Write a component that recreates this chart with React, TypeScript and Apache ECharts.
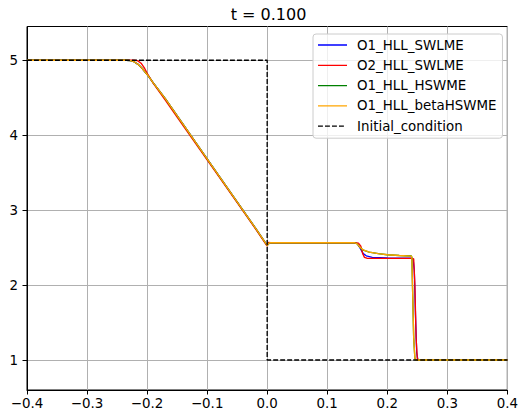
import React, { useEffect, useRef } from "react";
import * as echarts from "echarts";

const TITLE = "t = 0.100";
const X_TICKS = [-0.4, -0.3, -0.2, -0.1, 0, 0.1, 0.2, 0.3, 0.4];
const Y_TICKS = [1, 2, 3, 4, 5];

const SERIES_NAMES = ["O1_HLL_SWLME", "O2_HLL_SWLME", "O1_HLL_HSWME", "O1_HLL_betaHSWME", "Initial_condition"];
const SERIES_COLORS = ["#0000ff", "#ff0000", "#008000", "#ffa500", "#000000"];

const O1_SWLME_X = [-0.4, -0.235, -0.228, -0.222, -0.215, -0.208, -0.2, -0.19, -0.17, -0.15, -0.1, -0.05, -0.02, 0, 0.004, 0.145, 0.15, 0.155, 0.16, 0.165, 0.175, 0.2, 0.24, 0.243, 0.245, 0.247, 0.249, 0.251, 0.4];
const O1_SWLME_H = [5, 5, 4.995, 4.98, 4.945, 4.89, 4.81, 4.7, 4.49, 4.26, 3.685, 3.11, 2.765, 2.53, 2.565, 2.565, 2.555, 2.49, 2.42, 2.39, 2.37, 2.362, 2.36, 2.35, 2.2, 1.6, 1.1, 1.0, 1.0];

const O2_SWLME_X = [-0.4, -0.222, -0.216, -0.21, -0.204, -0.198, -0.19, -0.17, -0.15, -0.1, -0.05, -0.02, 0, 0.002, 0.006, 0.145, 0.152, 0.156, 0.159, 0.162, 0.166, 0.24, 0.244, 0.246, 0.248, 0.25, 0.252, 0.4];
const O2_SWLME_H = [5, 5, 4.995, 4.96, 4.89, 4.8, 4.695, 4.47, 4.24, 3.67, 3.1, 2.755, 2.52, 2.57, 2.565, 2.565, 2.56, 2.52, 2.42, 2.37, 2.358, 2.356, 2.35, 2.0, 1.3, 1.02, 1.0, 1.0];

const O1_HSWME_X = [-0.4, -0.235, -0.228, -0.222, -0.215, -0.208, -0.2, -0.19, -0.17, -0.15, -0.1, -0.05, -0.02, 0, 0.004, 0.145, 0.15, 0.155, 0.16, 0.17, 0.185, 0.2, 0.22, 0.24, 0.241, 0.242, 0.244, 0.246, 0.248, 0.4];
const O1_HSWME_H = [5, 5, 4.995, 4.98, 4.945, 4.89, 4.81, 4.7, 4.49, 4.26, 3.685, 3.11, 2.765, 2.53, 2.565, 2.565, 2.55, 2.5, 2.465, 2.44, 2.42, 2.405, 2.395, 2.388, 2.37, 2.0, 1.3, 1.02, 1.0, 1.0];

const O1_BETA_X = [-0.4, -0.235, -0.228, -0.222, -0.215, -0.208, -0.2, -0.19, -0.17, -0.15, -0.1, -0.05, -0.02, 0, 0.004, 0.145, 0.15, 0.155, 0.16, 0.17, 0.185, 0.2, 0.22, 0.24, 0.241, 0.242, 0.244, 0.246, 0.248, 0.4];
const O1_BETA_H = [5, 5, 4.995, 4.98, 4.945, 4.89, 4.81, 4.7, 4.49, 4.26, 3.685, 3.11, 2.765, 2.53, 2.565, 2.565, 2.55, 2.5, 2.468, 2.44, 2.42, 2.405, 2.395, 2.387, 2.37, 2.0, 1.3, 1.02, 1.0, 1.0];

const INIT_X = [-0.4, 0, 0, 0.4];
const INIT_H = [5, 5, 1, 1];

const zip = (xs: number[], hs: number[]) => xs.map((x, i) => [x, hs[i]]);

const FONT = "DejaVu Sans";
const BOX = "M0,0L0.001,0L0,0.001Z M29,14L28.999,14L29,13.999Z ";
const SOLID_ICON = "path://" + BOX + "M0,6.33L29,6.33L29,7.67L0,7.67Z";
const DASH_ICON =
  "path://" +
  BOX +
  "M0,6.33L4.9,6.33L4.9,7.67L0,7.67Z M7,6.33L11.9,6.33L11.9,7.67L7,7.67Z M14,6.33L18.9,6.33L18.9,7.67L14,7.67Z M21,6.33L25.9,6.33L25.9,7.67L21,7.67Z";

export default function App() {
  const ref = useRef<HTMLDivElement>(null);
  useEffect(() => {
    document.body.style.margin = "0";
    if (!ref.current) return;
    const chart = echarts.init(ref.current, undefined, { renderer: "svg" });
    const datasets = [
      zip(O1_SWLME_X, O1_SWLME_H),
      zip(O2_SWLME_X, O2_SWLME_H),
      zip(O1_HSWME_X, O1_HSWME_H),
      zip(O1_BETA_X, O1_BETA_H),
      zip(INIT_X, INIT_H),
    ];
    const series = datasets.map((d, i) => ({
      name: SERIES_NAMES[i],
      type: "line",
      data: d,
      symbol: "none",
      showSymbol: false,
      smooth: false,
      color: SERIES_COLORS[i],
      lineStyle: {
        color: SERIES_COLORS[i],
        width: 1.33,
        type: i === 4 ? [4.9, 2.1] : "solid",
      },
      z: 2 + i,
    }));
    chart.setOption({
      animation: false,
      backgroundColor: "#ffffff",
      grid: {
        left: 27,
        right: 10.5,
        top: 26.5,
        bottom: 28,
        show: true,
        borderColor: "#000",
        borderWidth: 1,
        containLabel: false,
      },
      graphic: [
        {
          type: "text",
          x: 268.5,
          y: 14,
          style: {
            text: TITLE,
            font: `16px '${FONT}'`,
            fill: "#000",
            textAlign: "center",
            textVerticalAlign: "middle",
          },
        },
      ],
      legend: {
        orient: "vertical",
        left: 313,
        top: 34,
        padding: [4, 6, 5, 5],
        itemWidth: 29,
        itemHeight: 14,
        itemGap: 6.3,
        symbolKeepAspect: false,
        backgroundColor: "rgba(255,255,255,0.8)",
        borderColor: "#cccccc",
        borderWidth: 1,
        borderRadius: 3,
        data: SERIES_NAMES.map((n, i) => ({ name: n, icon: i === 4 ? DASH_ICON : SOLID_ICON })),
        textStyle: {
          fontFamily: FONT,
          fontSize: 13.4,
          color: "#000",
          lineHeight: 14,
          padding: [0, 0, 0, 5],
        },
      },
      xAxis: {
        type: "value",
        min: -0.4,
        max: 0.4,
        interval: 0.1,
        axisLine: { show: true, onZero: false, lineStyle: { color: "#000", width: 1 } },
        axisTick: { show: true, length: 4.5, lineStyle: { color: "#000", width: 1 }, customValues: X_TICKS },
        axisLabel: {
          customValues: X_TICKS,
          margin: 7,
          color: "#000",
          fontFamily: FONT,
          fontSize: 13.4,
          formatter: (v: number) => {
            const s = (Math.round(v * 10) / 10).toFixed(1);
            return s.startsWith("-") ? "\u2212" + s.slice(1) : s;
          },
        },
        splitLine: { show: true, lineStyle: { color: "#b0b0b0", width: 1 } },
      },
      yAxis: {
        type: "value",
        min: 0.6,
        max: 5.45,
        axisLine: { show: true, onZero: false, lineStyle: { color: "#000", width: 1 } },
        axisTick: { show: true, length: 4.5, lineStyle: { color: "#000", width: 1 }, customValues: Y_TICKS },
        axisLabel: {
          customValues: Y_TICKS,
          margin: 9,
          color: "#000",
          fontFamily: FONT,
          fontSize: 13.4,
          formatter: (v: number) => String(Math.round(v)),
        },
        splitLine: { show: true, lineStyle: { color: "#b0b0b0", width: 1 } },
      },
      series,
    });
    return () => chart.dispose();
  }, []);
  return (
    <div
      ref={ref}
      style={{ width: 521, height: 418, position: "fixed", left: 0, top: 0, background: "#fff" }}
    />
  );
}
